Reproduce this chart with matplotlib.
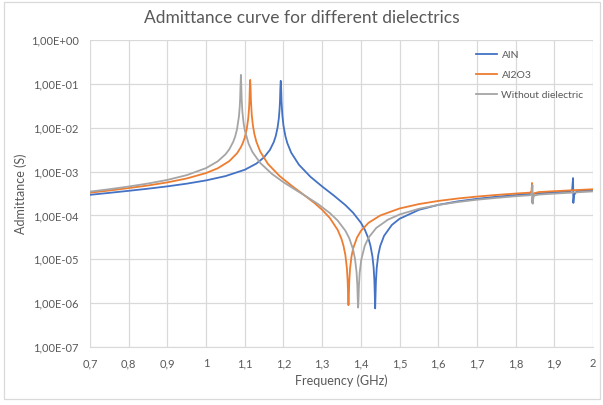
import matplotlib
matplotlib.use("Agg")
import matplotlib.pyplot as plt
from matplotlib.ticker import FixedLocator, FuncFormatter
from matplotlib.patches import Rectangle

# Values (frequency in GHz, admittance in S)
aln_freq = [0.70, 0.75, 0.80, 0.85, 0.90, 0.95, 1.00, 1.05, 1.10, 1.13, 1.15, 1.165,
            1.175, 1.18, 1.185, 1.188, 1.190, 1.191, 1.192, 1.193, 1.194, 1.195, 1.197,
            1.200, 1.205, 1.21, 1.22, 1.24, 1.27, 1.30, 1.33, 1.36, 1.38, 1.40, 1.41,
            1.42, 1.425, 1.43, 1.433, 1.435, 1.436, 1.437, 1.438, 1.439, 1.441, 1.445,
            1.45, 1.46, 1.48, 1.50, 1.55, 1.60, 1.65, 1.70, 1.75, 1.80, 1.85, 1.90,
            1.94, 1.946, 1.9485, 1.9492, 1.951, 1.955, 1.96, 2.00]
aln_adm = [2.95e-4, 3.27e-4, 3.64e-4, 4.07e-4, 4.60e-4, 5.30e-4, 6.29e-4, 7.88e-4,
           1.10e-3, 1.52e-3, 2.12e-3, 3.12e-3, 4.72e-3, 6.43e-3, 1.03e-2, 1.63e-2,
           2.70e-2, 4.04e-2, 8.05e-2, 1.17e-1, 8.0e-2, 3.98e-2, 1.98e-2, 1.12e-2,
           6.42e-3, 4.45e-3, 2.70e-3, 1.43e-3, 7.57e-4, 4.57e-4, 2.85e-4, 1.72e-4,
           1.15e-4, 6.84e-5, 4.80e-5, 2.91e-5, 2.01e-5, 1.15e-5, 6.5e-6, 3.24e-6,
           1.61e-6, 7.6e-7, 1.60e-6, 3.2e-6, 6.35e-6, 1.25e-5, 2.0e-5, 3.43e-5,
           6.05e-5, 8.39e-5, 1.34e-4, 1.74e-4, 2.09e-4, 2.39e-4, 2.66e-4, 2.91e-4,
           3.14e-4, 3.36e-4, 3.52e-4, 3.8e-4, 7.1e-4, 1.93e-4, 2.9e-4, 3.3e-4,
           3.60e-4, 3.75e-4]

al2o3_freq = [0.70, 0.75, 0.80, 0.85, 0.90, 0.95, 1.00, 1.03, 1.06, 1.08, 1.09, 1.095,
              1.10, 1.105, 1.109, 1.111, 1.112, 1.113, 1.114, 1.115, 1.116, 1.118, 1.121,
              1.125, 1.13, 1.14, 1.16, 1.19, 1.22, 1.25, 1.28, 1.30, 1.32, 1.34, 1.35,
              1.355, 1.36, 1.364, 1.366, 1.367, 1.368, 1.369, 1.370, 1.372, 1.376, 1.38,
              1.39, 1.40, 1.42, 1.45, 1.50, 1.55, 1.60, 1.65, 1.70, 1.75, 1.80, 1.83,
              1.838, 1.841, 1.8425, 1.8432, 1.845, 1.848, 1.86, 1.90, 1.95, 2.00]
al2o3_adm = [3.30e-4, 3.70e-4, 4.20e-4, 4.82e-4, 5.67e-4, 6.96e-4, 9.26e-4, 1.187e-3,
             1.73e-3, 2.61e-3, 3.60e-3, 4.49e-3, 6.01e-3, 9.21e-3, 1.64e-2, 2.71e-2,
             4.06e-2, 8.1e-2, 1.23e-1, 8.0e-2, 4.0e-2, 1.99e-2, 1.13e-2, 7.08e-3,
             4.79e-3, 2.85e-3, 1.49e-3, 7.92e-4, 4.84e-4, 3.07e-4, 1.92e-4, 1.345e-4,
             8.7e-5, 4.69e-5, 2.91e-5, 2.06e-5, 1.25e-5, 6.16e-6, 3.06e-6, 1.52e-6,
             9.0e-7, 1.51e-6, 3.02e-6, 6.0e-6, 1.185e-5, 1.756e-5, 3.12e-5, 4.42e-5,
             6.8e-5, 9.96e-5, 1.44e-4, 1.814e-4, 2.14e-4, 2.43e-4, 2.69e-4, 2.93e-4,
             3.15e-4, 3.28e-4, 3.31e-4, 3.6e-4, 5.5e-4, 1.95e-4, 2.9e-4, 3.2e-4,
             3.41e-4, 3.57e-4, 3.76e-4, 3.95e-4]

bare_freq = [0.70, 0.75, 0.80, 0.85, 0.90, 0.95, 1.00, 1.03, 1.05, 1.06, 1.07, 1.075,
             1.08, 1.085, 1.087, 1.088, 1.089, 1.090, 1.091, 1.092, 1.094, 1.097, 1.10,
             1.11, 1.12, 1.14, 1.17, 1.20, 1.23, 1.26, 1.29, 1.32, 1.34, 1.36, 1.37,
             1.38, 1.385, 1.389, 1.391, 1.392, 1.393, 1.394, 1.395, 1.397, 1.401, 1.41,
             1.42, 1.44, 1.47, 1.50, 1.55, 1.60, 1.65, 1.70, 1.75, 1.80, 1.83, 1.838,
             1.8415, 1.8435, 1.8442, 1.846, 1.849, 1.86, 1.90, 1.95, 2.00]
bare_adm = [3.49e-4, 3.96e-4, 4.56e-4, 5.34e-4, 6.46e-4, 8.29e-4, 1.20e-3, 1.709e-3,
            2.467e-3, 3.22e-3, 4.73e-3, 6.23e-3, 9.25e-3, 1.83e-2, 3.03e-2, 4.54e-2,
            9.05e-2, 1.60e-1, 9.0e-2, 4.49e-2, 2.23e-2, 1.27e-2, 8.8e-3, 4.29e-3,
            2.78e-3, 1.57e-3, 8.88e-4, 5.72e-4, 3.89e-4, 2.67e-4, 1.80e-4, 1.13e-4,
            7.67e-5, 4.48e-5, 3.03e-5, 1.67e-5, 1.01e-5, 5.0e-6, 2.49e-6, 1.24e-6,
            7.9e-7, 1.23e-6, 2.46e-6, 4.9e-6, 9.7e-6, 2.02e-5, 3.12e-5, 5.2e-5,
            8.0e-5, 1.05e-4, 1.415e-4, 1.734e-4, 2.02e-4, 2.28e-4, 2.51e-4, 2.74e-4,
            2.86e-4, 2.89e-4, 3.2e-4, 4.9e-4, 1.85e-4, 2.6e-4, 2.85e-4, 2.99e-4,
            3.14e-4, 3.33e-4, 3.53e-4]

series_names = ["AlN", "Al2O3", "Without dielectric"]
series_colors = ["#4472C4", "#ED7D31", "#A5A5A5"]
x_ticks = [0.7, 0.8, 0.9, 1.0, 1.1, 1.2, 1.3, 1.4, 1.5, 1.6, 1.7, 1.8, 1.9, 2.0]
y_ticks = [1e-7, 1e-6, 1e-5, 1e-4, 1e-3, 1e-2, 1e-1, 1e0]

plt.rcParams['font.family'] = ['Lato', 'DejaVu Sans']
text_col = "#595959"
grid_col = "#D9D9D9"

fig = plt.figure(figsize=(6.03, 4.05), dpi=100)
ax = fig.add_axes([90/603, 58/405, 503/603, 307/405])

data = [(aln_freq, aln_adm), (al2o3_freq, al2o3_adm), (bare_freq, bare_adm)]
for (fx, fy), name, col in zip(data, series_names, series_colors):
    ax.plot(fx, fy, color=col, lw=1.3, label=name)

ax.set_yscale("log")
ax.set_xlim(0.7, 2.0)
ax.set_ylim(1e-7, 1e0)
ax.xaxis.set_major_locator(FixedLocator(x_ticks))
ax.yaxis.set_major_locator(FixedLocator(y_ticks))
ax.yaxis.set_minor_locator(FixedLocator([]))
ax.xaxis.set_major_formatter(FuncFormatter(lambda v, p: f"{v:g}".replace('.', ',')))
ax.yaxis.set_major_formatter(FuncFormatter(lambda v, p: f"{v:.2E}".replace('.', ',')))

ax.grid(True, color=grid_col, lw=0.9)
ax.set_axisbelow(True)
for s in ["top", "right", "left"]:
    ax.spines[s].set_visible(False)
ax.spines["bottom"].set_color(grid_col)
ax.tick_params(length=0, labelsize=8, colors=text_col, pad=8)

ax.set_xlabel("Frequency (GHz)", fontsize=9, color=text_col, labelpad=4)
ax.set_ylabel("Admittance (S)", fontsize=9, color=text_col)
ax.yaxis.set_label_coords(-0.125, 0.5)
fig.suptitle("Admittance curve for different dielectrics", fontsize=12.5,
             color=text_col, x=0.5, y=0.975)

leg = ax.legend(loc="upper right", bbox_to_anchor=(1.0, 0.997), frameon=False,
                fontsize=7.5, labelcolor=text_col, handlelength=2.0,
                handletextpad=0.4, labelspacing=1.05)

fig.patches.append(Rectangle((4/603, 6/405), 596/603, 397/405, transform=fig.transFigure,
                             fill=False, edgecolor=grid_col, lw=0.9))

fig.savefig("out.png", dpi=100)
